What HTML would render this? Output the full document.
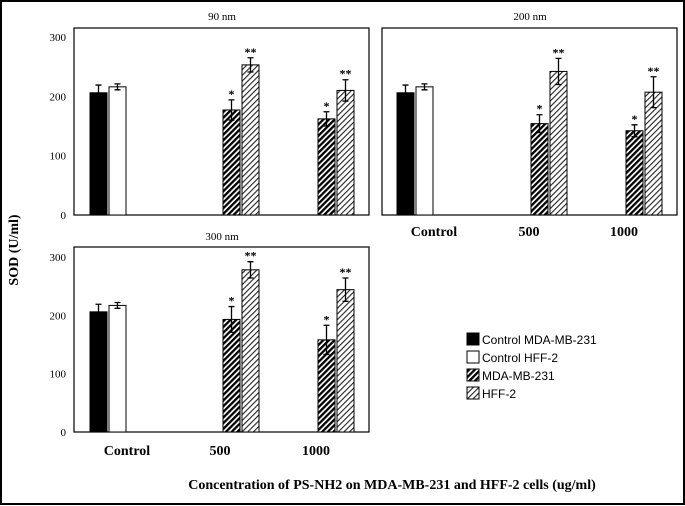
<!DOCTYPE html>
<html><head><meta charset="utf-8"><style>
body{margin:0;background:#fff}
svg{display:block;font-family:"Liberation Serif",serif}
</style></head><body>
<svg id="c" width="685" height="506" viewBox="0 0 685 506">
<defs>
<pattern id="hd" patternUnits="userSpaceOnUse" width="4" height="4" patternTransform="rotate(45)"><rect width="4" height="4" fill="#fff"/><rect width="2.3" height="4" fill="#000"/></pattern>
<pattern id="hl" patternUnits="userSpaceOnUse" width="4" height="4" patternTransform="rotate(45)"><rect width="4" height="4" fill="#fff"/><rect width="1.1" height="4" fill="#222"/></pattern>
</defs>
<rect x="1" y="1" width="683" height="503" fill="#fff" stroke="#000" stroke-width="2"/>
<g id="root"></g>
<text x="18" y="250" font-size="14" font-weight="bold" text-anchor="middle" transform="rotate(-90 18 250)">SOD (U/ml)</text>
<text x="392" y="489" font-size="14" font-weight="bold" text-anchor="middle">Concentration of PS-NH2 on MDA-MB-231 and HFF-2 cells (ug/ml)</text>
<g font-family="Liberation Sans, sans-serif" font-size="12">
<rect x="467" y="333" width="12" height="12" fill="#000" stroke="#000"/><text x="482" y="344">Control MDA-MB-231</text>
<rect x="467" y="351" width="12" height="12" fill="#fff" stroke="#000"/><text x="482" y="362">Control HFF-2</text>
<rect x="467" y="369" width="12" height="12" fill="url(#hd)" stroke="#000"/><text x="482" y="380">MDA-MB-231</text>
<rect x="467" y="387" width="12" height="12" fill="url(#hl)" stroke="#000"/><text x="482" y="398">HFF-2</text>
</g>
</svg>
<script>
const panelTitles=["90 nm","200 nm","300 nm"];
const categories=["Control","500","1000"];
const yTicks=[0,100,200,300];
const vals90=[206,216,177,253,162,210];
const err90=[13,5,17,12,12,18];
const stars90=["","","*","**","*","**"];
const vals200=[206,216,154,242,142,207];
const err200=[13,5,15,22,10,26];
const stars200=["","","*","**","*","**"];
const vals300=[206,217,193,278,158,244];
const err300=[13,5,22,14,25,20];
const stars300=["","","*","**","*","**"];
const NS="http://www.w3.org/2000/svg";
const root=document.getElementById('root');
function mk(t,a,p){const e=document.createElementNS(NS,t);for(const k in a)e.setAttribute(k,a[k]);(p||root).appendChild(e);return e;}
const fills=["#000","#fff","url(#hd)","url(#hl)","url(#hd)","url(#hl)"];
const panels=[
 {x0:74,x1:369,top:28,y0:215,y300:37,ticks:true,barX:[90,109,223,242,318,337],labels:null,title:[222,20],vals:vals90,err:err90,stars:stars90},
 {x0:382,x1:677,top:28,y0:215,y300:37,ticks:false,barX:[397,416,531,550,626,645],labels:[434,529,624],labY:236,title:[530,20],vals:vals200,err:err200,stars:stars200},
 {x0:74,x1:369,top:247,y0:432,y300:257,ticks:true,barX:[90,109,223,242,318,337],labels:[127,220,316],labY:455,title:[222,240],vals:vals300,err:err300,stars:stars300}
];
panels.forEach((p,i)=>{
 const g=mk('g',{});
 
 
 const y=v=>p.y0-(v/300)*(p.y0-p.y300);
 const box=mk('rect',{x:p.x0,y:p.top,width:p.x1-p.x0,height:p.y0-p.top,fill:'none',stroke:'#000','stroke-width':1.2},g);
 
 
 const t=mk('text',{x:p.title[0],y:p.title[1],'font-size':11,'text-anchor':'middle'},g);t.textContent=panelTitles[i];
 
 
 if(p.ticks)yTicks.forEach(v=>{const tt=mk('text',{x:66,y:y(v)+4,'font-size':11,'text-anchor':'end'},g);tt.textContent=v;
  
  });
 if(p.labels)categories.forEach((c,j)=>{const l=mk('text',{x:p.labels[j],y:p.labY,'font-size':14,'font-weight':'bold','text-anchor':'middle'},g);l.textContent=c;
  
  });
 p.vals.forEach((v,j)=>{
  const bx=p.barX[j],w=17,top=y(v);
  const r=mk('rect',{x:bx,y:top,width:w,height:p.y0-top,fill:fills[j],stroke:'#000','stroke-width':1},g);
  
  
  const cx=bx+w/2,e1=y(v+p.err[j]),e2=y(v-p.err[j]);
  const eb=mk('path',{d:`M${cx} ${e1}V${e2}M${cx-3} ${e1}H${cx+3}M${cx-3} ${e2}H${cx+3}`,stroke:'#000','stroke-width':1.3,fill:'none'},g);
  
  
  if(p.stars[j]){const s=mk('text',{x:cx,y:e1-2,'font-size':12,'font-weight':'bold','text-anchor':'middle'},g);s.textContent=p.stars[j];
   
   }
 });
});
</script>
</body></html>
